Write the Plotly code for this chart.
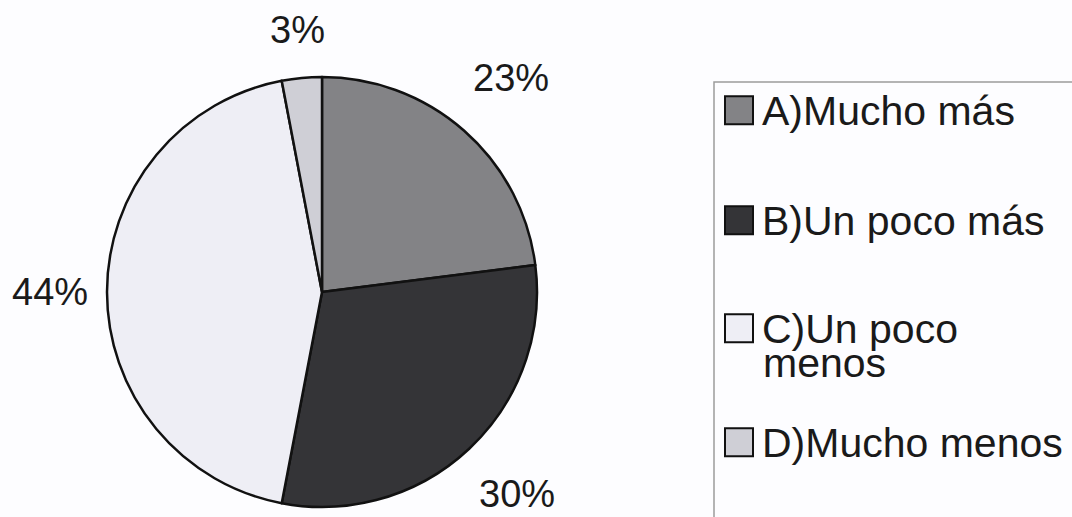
import math
import textwrap
import plotly.graph_objects as go

# ---- data ----
labels = ["A)Mucho más", "B)Un poco más", "C)Un poco menos", "D)Mucho menos"]
values = [23, 30, 44, 3]
pct_text = ["23%", "30%", "44%", "3%"]
colors = ["#838386", "#343437", "#eeeef5", "#cfcfd6"]

# ---- layout constants (pixels) ----
W, H = 1072, 517
CX, CY, R = 322, 292, 215
FONT = "Arial, Liberation Sans, sans-serif"
PCT_SIZE = 38
LEG_SIZE = 41
LEG_BOX_X0, LEG_BOX_Y0 = 714, 82
LEG_MARK_X0, LEG_MARK_SIZE = 725, 28
LEG_TEXT_X = 760
LEG_BASELINES = [125, 235, 343, 457]
LEG_LINE_GAP = 34


def px(x):
    return x / W


def py(y):
    return 1 - y / H


fig = go.Figure(
    go.Pie(
        labels=labels,
        values=values,
        sort=False,
        direction="clockwise",
        rotation=0,
        marker=dict(colors=colors, line=dict(color="#111111", width=2.5)),
        textinfo="none",
        hoverinfo="label+percent",
        showlegend=False,
        domain=dict(x=[px(CX - R), px(CX + R)], y=[py(CY + R), py(CY - R)]),
    )
)

annotations = []
shapes = []

# percentage labels, placed outside each slice at its mid angle
total = sum(values)
cum = 0.0
for v, t in zip(values, pct_text):
    mid = (cum + v / 2) / total * 2 * math.pi
    cum += v
    s, c = math.sin(mid), math.cos(mid)
    hw = 0.5 * PCT_SIZE * (0.556 * (len(t) - 1) + 0.889)
    hh = 0.37 * PCT_SIZE
    r = R + 30 + 0.7 * hw * abs(s) + hh * abs(c) + 12 * abs(math.sin(2 * mid))
    x = CX + r * s
    y = min(CY - r * c, H - hh - 9)
    annotations.append(dict(
        x=px(x), y=py(y), xref="paper", yref="paper", text=t, showarrow=False,
        xanchor="center", yanchor="middle",
        font=dict(family=FONT, size=PCT_SIZE, color="#1a1a1a"),
    ))

# legend frame
shapes.append(dict(
    type="rect", xref="paper", yref="paper",
    x0=px(LEG_BOX_X0), x1=px(W + 20), y0=py(H + 20), y1=py(LEG_BOX_Y0),
    line=dict(color="#9c9c9c", width=1.5), fillcolor="rgba(0,0,0,0)", layer="below",
))

# legend entries
for lab, col, base in zip(labels, colors, LEG_BASELINES):
    lines = textwrap.wrap(lab, 13)
    cap_mid = base - 0.36 * LEG_SIZE
    shapes.append(dict(
        type="rect", xref="paper", yref="paper",
        x0=px(LEG_MARK_X0), x1=px(LEG_MARK_X0 + LEG_MARK_SIZE),
        y0=py(cap_mid + LEG_MARK_SIZE / 2), y1=py(cap_mid - LEG_MARK_SIZE / 2),
        line=dict(color="#111111", width=2), fillcolor=col,
    ))
    for i, ln in enumerate(lines):
        yb = base + i * LEG_LINE_GAP
        annotations.append(dict(
            x=px(LEG_TEXT_X if i == 0 else LEG_TEXT_X + 1), y=py(yb - 0.347 * LEG_SIZE),
            xref="paper", yref="paper", text=ln, showarrow=False,
            xanchor="left", yanchor="middle",
            font=dict(family=FONT, size=LEG_SIZE, color="#1a1a1a"),
        ))

fig.update_layout(
    width=W, height=H,
    margin=dict(l=0, r=0, t=0, b=0),
    paper_bgcolor="#fdfdff",
    plot_bgcolor="#fdfdff",
    annotations=annotations,
    shapes=shapes,
    showlegend=False,
)

fig.write_html(
    "out.html",
    config={"displayModeBar": False},
    post_script="document.body.style.margin='0px';document.body.style.padding='0px';",
)
